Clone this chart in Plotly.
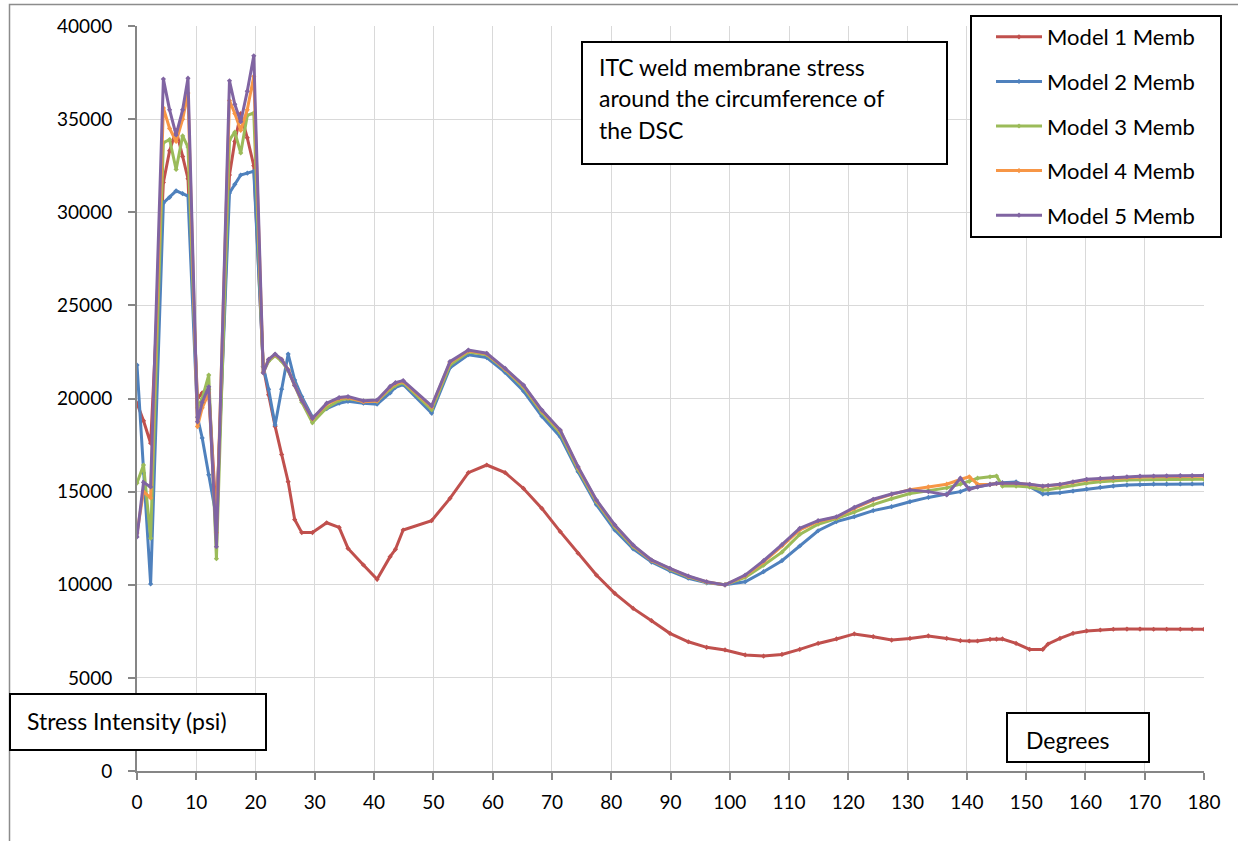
import plotly.graph_objects as go

# Angular position around the circumference (degrees)
degrees = [
    0, 1.1, 2.3, 4.45, 5.5, 6.6, 7.7, 8.6, 10.2, 11.0, 12.1, 13.4, 15.6, 16.5, 17.5,
    18.6, 19.7, 21.3, 22.2, 23.3, 24.4, 25.5, 26.6, 27.8, 29.6, 32.0, 34.1, 35.6,
    38.2, 40.5, 42.7, 43.6, 44.9, 49.7, 52.8, 55.9, 59.0, 62.1, 65.2, 68.3, 71.4,
    74.4, 77.5, 80.6, 83.7, 86.8, 89.9, 93.0, 96.1, 99.2, 102.6, 105.7, 108.8,
    111.8, 114.9, 118.0, 121.0, 124.2, 127.3, 130.4, 133.5, 136.6, 138.9, 140.4,
    141.8, 143.9, 145.0, 146.0, 148.3, 150.6, 152.8, 153.7, 155.7, 157.9, 160.2,
    162.5, 164.7, 167.0, 169.2, 171.5, 173.7, 176.0, 178.0, 180.0,
]

# Membrane stress intensity (psi) for each model
model1 = [
    19750, 18800, 17600, 31600, 33300, 34400, 33000, 31800, 20000, 20300, 20500, 13500,
    32000, 33800, 35300, 34000, 32500, 21700, 20200, 18500, 17000, 15530, 13500, 12800,
    12800, 13330, 13080, 11950, 11060, 10290, 11510, 11900, 12940, 13440, 14640, 16020,
    16430, 16020, 15170, 14100, 12850, 11690, 10520, 9540, 8730, 8070, 7390, 6940, 6640,
    6500, 6230, 6170, 6260, 6530, 6850, 7090, 7360, 7210, 7030, 7120, 7250, 7120, 7000,
    6980, 6980, 7070, 7080, 7090, 6850, 6530, 6530, 6820, 7120, 7390, 7520, 7570, 7610,
    7620, 7620, 7610, 7610, 7610, 7610, 7610,
]
model2 = [
    21800, 16000, 10040, 30500, 30800, 31150, 31000, 30870, 19000, 17880, 15900, 13600,
    31030, 31500, 32000, 32100, 32200, 21700, 20500, 18580, 20500, 22390, 20990, 20100,
    19000, 19450, 19750, 19850, 19750, 19700, 20300, 20600, 20750, 19220, 21650, 22350,
    22200, 21400, 20400, 19050, 17950, 16070, 14300, 12940, 11930, 11220, 10750, 10350,
    10100, 10000, 10160, 10700, 11290, 12080, 12900, 13390, 13650, 13980, 14190, 14460,
    14690, 14870, 15000, 15180, 15250, 15400, 15450, 15480, 15520, 15260, 14870, 14880,
    14940, 15030, 15130, 15230, 15300, 15350, 15380, 15400, 15400, 15410, 15410, 15410,
]
model3 = [
    15460, 16430, 12500, 33730, 33900, 32300, 34100, 33500, 19500, 20000, 21260, 11400,
    33880, 34300, 33180, 35200, 35330, 21400, 22000, 22300, 22000, 21500, 20700, 19800,
    18700, 19500, 19900, 20000, 19850, 19850, 20500, 20700, 20850, 19400, 21800, 22500,
    22350, 21550, 20600, 19250, 18150, 16200, 14450, 13100, 12050, 11300, 10830, 10420,
    10130, 10000, 10400, 11050, 11750, 12700, 13250, 13550, 13900, 14300, 14620, 14900,
    15050, 15200, 15400, 15550, 15720, 15800, 15840, 15300, 15300, 15250, 15090, 15100,
    15200, 15350, 15450, 15530, 15580, 15620, 15640, 15650, 15660, 15660, 15660, 15660,
]
model4 = [
    12780, 15000, 14660, 35600, 34500, 33800, 35000, 36400, 18490, 19500, 20300, 12800,
    36000, 35300, 34400, 35500, 37300, 21400, 22100, 22350, 22100, 21550, 20700, 19900,
    18900, 19700, 20000, 20050, 19830, 19870, 20600, 20800, 20920, 19550, 21930, 22560,
    22400, 21580, 20680, 19340, 18270, 16300, 14510, 13180, 12100, 11310, 10860, 10450,
    10150, 9990, 10480, 11230, 12080, 12950, 13400, 13620, 14100, 14550, 14850, 15100,
    15250, 15400, 15650, 15800, 15400, 15380, 15430, 15440, 15440, 15380, 15280, 15310,
    15370, 15500, 15620, 15670, 15720, 15760, 15790, 15800, 15810, 15820, 15820, 15820,
]
model5 = [
    12570, 15500, 15250, 37150, 35500, 34150, 35500, 37200, 18750, 19800, 20630, 12040,
    37060, 35800, 34860, 36500, 38400, 21370, 22100, 22390, 22100, 21530, 20700, 19900,
    18930, 19750, 20050, 20100, 19880, 19920, 20650, 20850, 20960, 19600, 21980, 22600,
    22430, 21620, 20720, 19380, 18310, 16340, 14550, 13210, 12130, 11330, 10880, 10470,
    10160, 9990, 10520, 11290, 12150, 13030, 13440, 13650, 14150, 14590, 14870, 15090,
    15000, 14820, 15720, 15120, 15260, 15380, 15440, 15450, 15450, 15390, 15300, 15330,
    15390, 15530, 15660, 15710, 15760, 15800, 15830, 15840, 15850, 15860, 15860, 15870,
]

series_names = ["Model 1 Memb", "Model 2 Memb", "Model 3 Memb", "Model 4 Memb", "Model 5 Memb"]
series_colors = ["#C0504D", "#4F81BD", "#9BBB59", "#F79646", "#8064A2"]

W, H = 1238, 841
L, R, T, B = 137, 34, 26, 70
PW, PH = W - L - R, H - T - B
FONT = "Lato"


def fx(px):
    """Pixel column -> paper x."""
    return (px - L) / PW


def fy(py):
    """Pixel row -> paper y."""
    return (H - B - py) / PH


fig = go.Figure()
for i, (name, ys, col) in enumerate(zip(series_names, [model1, model2, model3, model4, model5], series_colors)):
    fig.add_trace(go.Scatter(
        x=degrees, y=ys, name=name, mode="lines+markers",
        line=dict(color=col, width=3),
        marker=dict(color=col, size=4, symbol="diamond"),
        legendgroup=f"g{i}",
    ))

axis_common = dict(
    showgrid=True, gridcolor="#D9D9D9", gridwidth=1,
    showline=True, linecolor="#868686", linewidth=2,
    ticks="outside", ticklen=7, tickwidth=2, tickcolor="#868686",
    tickfont=dict(family=FONT, size=19, color="#000000"),
    zeroline=False, fixedrange=True, automargin=False,
)

fig.update_xaxes(range=[0, 180], tickmode="linear", tick0=0, dtick=10,
                 ticklabelstandoff=6, **axis_common)
fig.update_yaxes(range=[0, 40000], tickmode="linear", tick0=0, dtick=5000,
                 tickformat="d", ticklabelstandoff=12, **axis_common)

shapes = []
annotations = []


def boxed(x0, y0, x1, y1):
    shapes.append(dict(
        type="rect", xref="paper", yref="paper", layer="above",
        x0=fx(x0), x1=fx(x1), y0=fy(y1), y1=fy(y0),
        line=dict(color="#000000", width=2), fillcolor="#FFFFFF",
    ))


def label(text, px, py, size=23):
    annotations.append(dict(
        text=text, xref="paper", yref="paper", x=fx(px), y=fy(py),
        xanchor="left", yanchor="middle", showarrow=False,
        font=dict(family=FONT, size=size, color="#000000"),
    ))


# Outer chart frame
shapes.append(dict(
    type="rect", xref="paper", yref="paper", layer="below",
    x0=fx(9.5), x1=fx(1250), y0=fy(860), y1=fy(4.5),
    line=dict(color="#8C8C8C", width=1.5), fillcolor="rgba(0,0,0,0)",
))

# Title box
boxed(582, 42, 947, 164)
label("ITC weld membrane stress", 597, 67)
label("around the circumference of", 597, 98)
label("the DSC", 597, 130)

# Axis title boxes
boxed(10, 694, 266, 750)
label("Stress Intensity (psi)", 25, 721)
boxed(1007, 713, 1149, 762)
label("Degrees", 1024, 740)

# Legend frame
boxed(971, 16, 1221, 237)

fig.update_layout(
    width=W, height=H,
    margin=dict(l=L, r=R, t=T, b=B, autoexpand=False),
    paper_bgcolor="#FFFFFF", plot_bgcolor="#FFFFFF",
    shapes=shapes, annotations=annotations,
    showlegend=True,
    legend=dict(
        x=fx(991), y=fy(16), xanchor="left", yanchor="top",
        bgcolor="rgba(0,0,0,0)", borderwidth=0,
        font=dict(family=FONT, size=22, color="#000000"),
        traceorder="grouped", tracegroupgap=13, itemwidth=46,
    ),
)

fig.write_html("out.html")
